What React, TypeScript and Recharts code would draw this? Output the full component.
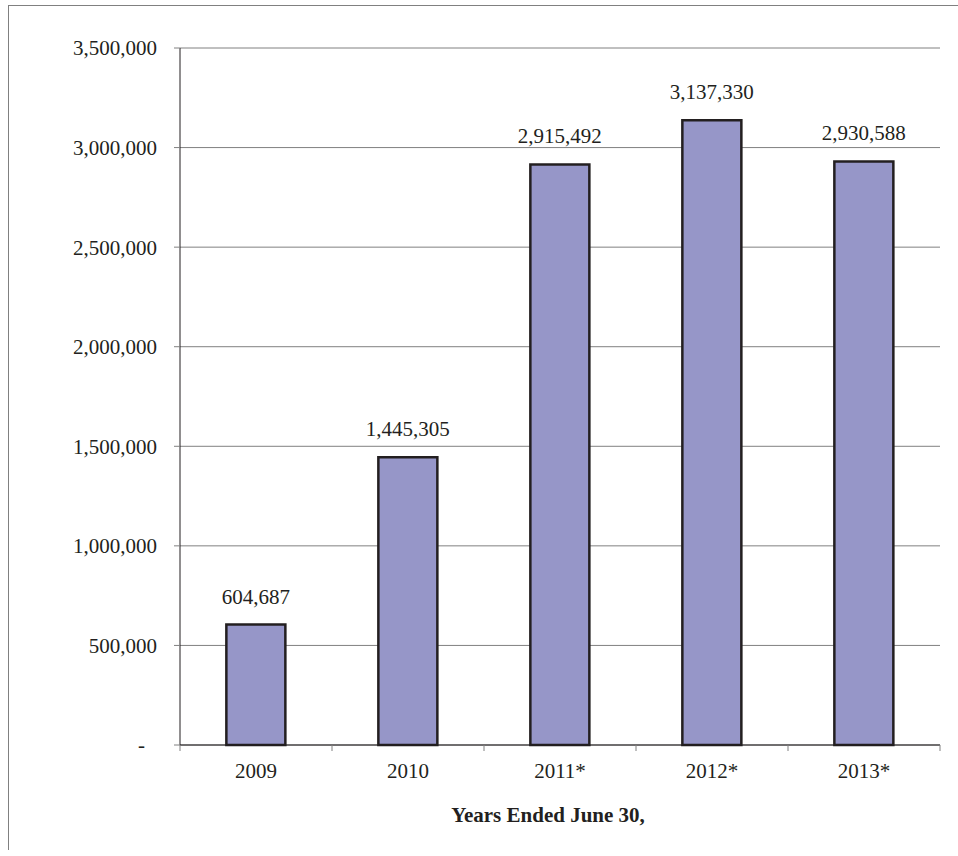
import { BarChart, Bar, XAxis, YAxis, CartesianGrid, LabelList } from 'recharts';

const years = ['2009', '2010', '2011*', '2012*', '2013*'];
const totals = [604687, 1445305, 2915492, 3137330, 2930588];
const yTicks = [0, 500000, 1000000, 1500000, 2000000, 2500000, 3000000, 3500000];

const chartData = years.map((year, i) => ({ year, total: totals[i] }));

const FONT = '"Liberation Serif", "Times New Roman", serif';
const INK = '#231f20';

const fmt = (v: number) => (v === 0 ? '-' : v.toLocaleString('en-US'));

function YTick(props: any) {
  const { x, y, payload } = props;
  const shift = payload.value === 0 ? 12 : 0;
  return (
    <text x={x - shift} y={y} dy="0.355em" textAnchor="end" fontFamily={FONT} fontSize={21} fill={INK}>
      {fmt(payload.value)}
    </text>
  );
}

function XTick(props: any) {
  const { x, y, payload, index, visibleTicksCount } = props;
  const half = payload.offset ?? 0;
  const top = y - 18;
  const isLast = index === visibleTicksCount - 1;
  return (
    <g>
      <line x1={x - half} y1={top} x2={x - half} y2={top + 6} stroke="#808080" />
      {isLast && <line x1={x + half} y1={top} x2={x + half} y2={top + 6} stroke="#808080" />}
      <text x={x} y={y} dy="0.71em" textAnchor="middle" fontFamily={FONT} fontSize={21} fill={INK}>
        {payload.value}
      </text>
    </g>
  );
}

function BarValue(props: any) {
  const { x, y, width, value } = props;
  return (
    <text x={x + width / 2} y={y - 21} textAnchor="middle" fontFamily={FONT} fontSize={21} fill={INK}>
      {Number(value).toLocaleString('en-US')}
    </text>
  );
}

export default function App() {
  return (
    <div
      style={{
        position: 'absolute',
        top: 5,
        left: 8,
        width: 950,
        height: 845,
        boxSizing: 'border-box',
        borderTop: '1px solid #808080',
        borderLeft: '1px solid #808080',
      }}
    >
      <BarChart
        width={940}
        height={840}
        data={chartData}
        margin={{ top: 42, right: 9, left: 0, bottom: 61 }}
        barCategoryGap="30.5%"
      >
        <CartesianGrid vertical={false} stroke="#808080" />
        <XAxis
          dataKey="year"
          height={40}
          axisLine={{ stroke: INK }}
          tickLine={false}
          tickSize={0}
          tickMargin={18}
          tick={<XTick />}
          interval={0}
        />
        <YAxis
          width={171}
          domain={[0, 3500000]}
          ticks={yTicks}
          interval={0}
          axisLine={{ stroke: INK }}
          tickLine={{ stroke: '#808080' }}
          tickSize={6}
          tickMargin={17}
          tick={<YTick />}
        />
        <Bar dataKey="total" fill="#9696c8" stroke={INK} strokeWidth={2.5} isAnimationActive={false}>
          <LabelList dataKey="total" content={<BarValue />} />
        </Bar>
      </BarChart>
      <div
        style={{
          position: 'absolute',
          left: 429,
          top: 797,
          width: 220,
          lineHeight: '24px',
          textAlign: 'center',
          fontFamily: FONT,
          fontWeight: 'bold',
          fontSize: 21,
          color: INK,
          whiteSpace: 'nowrap',
        }}
      >
        Years Ended June 30,
      </div>
    </div>
  );
}
